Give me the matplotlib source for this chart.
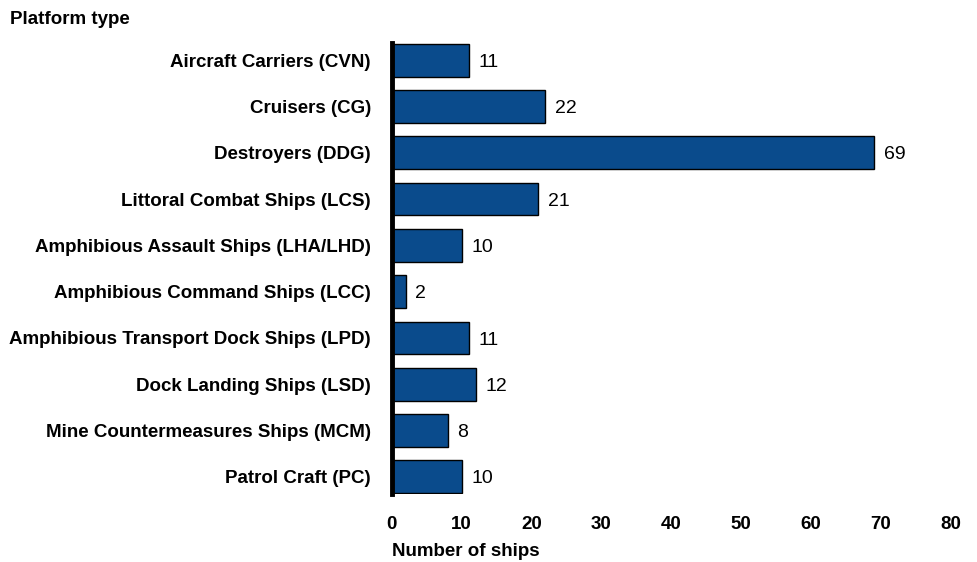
import matplotlib
matplotlib.use('Agg')
from matplotlib import pyplot as plt
import numpy as np

plt.rcParams['font.family'] = ['Liberation Sans', 'DejaVu Sans']

platforms = ['Aircraft Carriers (CVN)', 'Cruisers (CG)', 'Destroyers (DDG)',
             'Littoral Combat Ships (LCS)', 'Amphibious Assault Ships (LHA/LHD)',
             'Amphibious Command Ships (LCC)', 'Amphibious Transport Dock Ships (LPD)',
             'Dock Landing Ships (LSD)', 'Mine Countermeasures Ships (MCM)',
             'Patrol Craft (PC)']
ships = [11, 22, 69, 21, 10, 2, 11, 12, 8, 10]
xticks = [0, 10, 20, 30, 40, 50, 60, 70, 80]

fig = plt.figure(figsize=(9.77, 5.62), dpi=100)
axis = fig.add_axes([0.401, 0.121, 0.572, 0.8025])

pos = np.arange(len(platforms))
axis.barh(pos, ships, height=0.71, color='#0a4b8c', edgecolor='black', linewidth=1)
for y, v in zip(pos, ships):
    axis.annotate(str(v), (v, y), xytext=(7, -1.5), textcoords='offset points',
                  va='center', ha='left', fontsize=14)

axis.set_ylim(len(platforms) - 0.63, -0.37)
axis.set_xlim(0, 80)
axis.set_yticks(pos)
axis.set_yticklabels(platforms, fontsize=13.5, fontweight='bold')
axis.set_xticks(xticks)
axis.set_xticklabels([str(t) for t in xticks], fontsize=13.5, fontweight='bold')
axis.tick_params(length=0)
axis.tick_params(axis='y', pad=15)
axis.tick_params(axis='x', pad=16)
for side in ['top', 'right', 'bottom']:
    axis.spines[side].set_visible(False)
axis.spines['left'].set_linewidth(3.5)

fig.text(0.010, 0.966, 'Platform type', fontsize=13.5, fontweight='bold', va='center')
fig.text(0.401, 0.018, 'Number of ships', fontsize=13.5, fontweight='bold', va='center')

plt.savefig('out.png', dpi=100)
